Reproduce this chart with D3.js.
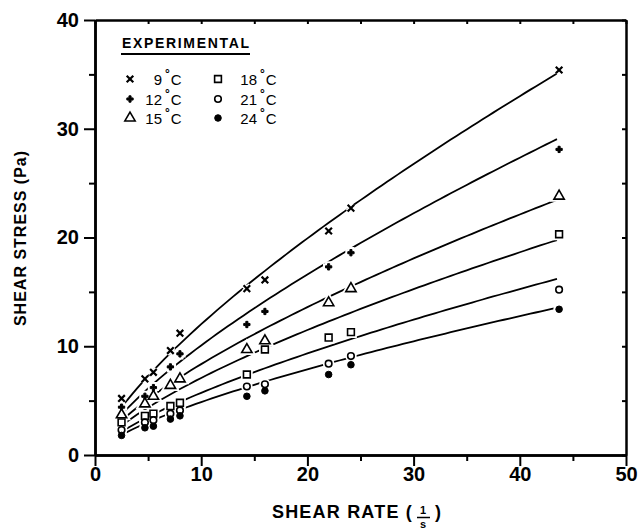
<!DOCTYPE html>
<html>
<head>
<meta charset="utf-8">
<script src="https://cdn.jsdelivr.net/npm/d3@7"></script>
<style>
  body { margin: 0; background: #fff; }
  svg { display: block; }
  .axis .domain { stroke: #000; stroke-width: 2.5; }
  .axis line { stroke: #000; stroke-width: 2; }
  .axis text { font-family: "Liberation Sans", Arial, sans-serif; font-weight: bold; font-size: 20px; fill: #000; }
  .fit { fill: none; stroke: #000; stroke-width: 1.8; }
  .lbl { font-family: "Liberation Sans", Arial, sans-serif; fill: #000; }
</style>
</head>
<body>
<svg width="640" height="529"></svg>
<script>
// measured shear rates (1/s), same for every temperature
var shearRate = [2.5, 4.7, 5.5, 7.1, 8.0, 14.3, 16.0, 22.0, 24.1, 43.7];
var temps = ["9", "12", "15", "18", "21", "24"];
// shear stress (Pa) per temperature
var stress9  = [5.2, 7.0, 7.6, 9.6, 11.2, 15.3, 16.1, 20.6, 22.7, 35.4];
var stress12 = [4.4, 5.4, 6.2, 8.1, 9.3, 12.0, 13.2, 17.3, 18.6, 28.1];
var stress15 = [3.7, 4.7, 5.4, 6.4, 7.0, 9.7, 10.5, 14.0, 15.3, 23.8];
var stress18 = [3.0, 3.6, 3.8, 4.5, 4.8, 7.4, 9.7, 10.8, 11.3, 20.3];
var stress21 = [2.3, 3.0, 3.2, 3.8, 4.1, 6.3, 6.5, 8.4, 9.1, 15.2];
var stress24 = [1.8, 2.5, 2.65, 3.3, 3.6, 5.4, 5.9, 7.4, 8.3, 13.4];
// drawn model lines: tau = K * rate^n
var fitK = [2.25, 1.92, 1.66, 1.42, 1.12, 0.98];
var fitN = [0.728, 0.72, 0.702, 0.698, 0.708, 0.696];
var fitFrom = 2.5, fitTo = 43.5;
var xMajor = [0, 10, 20, 30, 40, 50];
var xMinor = [5, 15, 25, 35, 45];
var yMajor = [0, 10, 20, 30, 40];
var yMinor = [5, 15, 25, 35];

var allStress = [stress9, stress12, stress15, stress18, stress21, stress24];
var markers = ["x", "plus", "triangle", "square", "circle", "dot"];

var svg = d3.select("svg");
var x = d3.scaleLinear().domain([0, 50]).range([95, 626]);
var y = d3.scaleLinear().domain([0, 40]).range([455, 20]);

// frame: top and right with small inner ticks
svg.append("g").attr("class", "axis").attr("transform", "translate(0,20)")
  .call(d3.axisTop(x).tickValues(xMajor.concat(xMinor)).tickSize(-4).tickSizeOuter(0).tickFormat(""));
svg.append("g").attr("class", "axis").attr("transform", "translate(626,0)")
  .call(d3.axisRight(y).tickValues(yMajor.concat(yMinor)).tickSize(-4).tickSizeOuter(0).tickFormat(""));

// bottom axis
svg.append("g").attr("class", "axis").attr("transform", "translate(0,455)")
  .call(d3.axisBottom(x).tickValues(xMajor).tickSize(11).tickPadding(1).tickSizeOuter(0));
svg.append("g").attr("class", "axis").attr("transform", "translate(0,455)")
  .call(d3.axisBottom(x).tickValues(xMinor).tickSize(6).tickSizeOuter(0).tickFormat(""));
// left axis
svg.append("g").attr("class", "axis").attr("transform", "translate(95,0)")
  .call(d3.axisLeft(y).tickValues(yMajor).tickSize(11).tickPadding(5).tickSizeOuter(0));
svg.append("g").attr("class", "axis").attr("transform", "translate(95,0)")
  .call(d3.axisLeft(y).tickValues(yMinor).tickSize(6).tickSizeOuter(0).tickFormat(""));

// fitted curves
var line = d3.line().x(function(d) { return x(d[0]); }).y(function(d) { return y(d[1]); });
temps.forEach(function(t, i) {
  var pts = d3.range(fitFrom, fitTo + 0.01, 0.5).map(function(r) { return [r, fitK[i] * Math.pow(r, fitN[i])]; });
  svg.append("path").attr("class", "fit").attr("d", line(pts));
});

function markerPath(kind) {
  if (kind === "x") return "M-3.3,-3.3L3.3,3.3M-3.3,3.3L3.3,-3.3";
  if (kind === "plus") return d3.symbol(d3.symbolCross, 22)();
  if (kind === "triangle") return d3.symbol(d3.symbolTriangle, 46)();
  if (kind === "square") return d3.symbol(d3.symbolSquare, 46)();
  return d3.symbol(d3.symbolCircle, 34)();
}
function styleMarker(sel, kind) {
  if (kind === "x") sel.attr("fill", "none").attr("stroke", "#000").attr("stroke-width", 2.2);
  else if (kind === "plus" || kind === "dot") sel.attr("fill", "#000").attr("stroke", "#000").attr("stroke-width", 1);
  else sel.attr("fill", "#fff").attr("stroke", "#000").attr("stroke-width", 1.6);
}

// white halos break the lines around the markers, as in the print
allStress.forEach(function(vals, i) {
  svg.append("g").selectAll("path").data(vals).enter().append("path")
    .attr("transform", function(d, j) { return "translate(" + x(shearRate[j]) + "," + y(d) + ")"; })
    .attr("d", markerPath(markers[i]))
    .attr("fill", "#fff").attr("stroke", "#fff").attr("stroke-width", 5);
});
allStress.forEach(function(vals, i) {
  svg.append("g").selectAll("path").data(vals).enter().append("path")
    .attr("transform", function(d, j) { return "translate(" + x(shearRate[j]) + "," + y(d) + ")"; })
    .attr("d", markerPath(markers[i]))
    .call(styleMarker, markers[i]);
});

// legend: 9,12,15 in column one, 18,21,24 in column two
svg.append("text").attr("class", "lbl").attr("x", 122).attr("y", 48)
  .attr("font-size", 14).attr("font-weight", "bold").attr("textLength", 127)
  .text("EXPERIMENTAL");
svg.append("line").attr("x1", 121).attr("x2", 250).attr("y1", 54).attr("y2", 54)
  .attr("stroke", "#000").attr("stroke-width", 2);
var legCols = [[130, 162], [218, 257]];
var legRows = [79, 99, 118];
temps.forEach(function(t, i) {
  var col = legCols[Math.floor(i / 3)];
  var row = legRows[i % 3];
  svg.append("path").attr("transform", "translate(" + col[0] + "," + row + ")")
    .attr("d", markerPath(markers[i])).call(styleMarker, markers[i]);
  svg.append("text").attr("class", "lbl").attr("x", col[1]).attr("y", row + 6)
    .attr("font-size", 15).attr("text-anchor", "end").text(t);
  var u = svg.append("text").attr("class", "lbl").attr("x", col[1] + 3).attr("y", row + 6).attr("font-size", 15);
  u.append("tspan").attr("dy", -7).attr("font-size", 12).attr("font-weight", "bold").text("°");
  u.append("tspan").attr("dy", 7).attr("dx", 1).text("C");
});

// axis titles
svg.append("text").attr("class", "lbl").attr("transform", "translate(26,238) rotate(-90)")
  .attr("text-anchor", "middle").attr("font-size", 16).attr("font-weight", "bold")
  .attr("letter-spacing", 1).text("SHEAR STRESS (Pa)");
svg.append("text").attr("class", "lbl").attr("x", 413).attr("y", 518).attr("text-anchor", "end")
  .attr("font-size", 18).attr("font-weight", "bold").attr("letter-spacing", 1.2).text("SHEAR RATE (");
svg.append("text").attr("class", "lbl").attr("x", 423).attr("y", 514).attr("text-anchor", "middle")
  .attr("font-size", 11).attr("font-weight", "bold").text("1");
svg.append("line").attr("x1", 417).attr("x2", 430).attr("y1", 517.5).attr("y2", 517.5)
  .attr("stroke", "#000").attr("stroke-width", 1.5);
svg.append("text").attr("class", "lbl").attr("x", 423).attr("y", 528).attr("text-anchor", "middle")
  .attr("font-size", 11).attr("font-weight", "bold").text("s");
svg.append("text").attr("class", "lbl").attr("x", 435).attr("y", 518)
  .attr("font-size", 18).attr("font-weight", "bold").text(")");
</script>
</body>
</html>
